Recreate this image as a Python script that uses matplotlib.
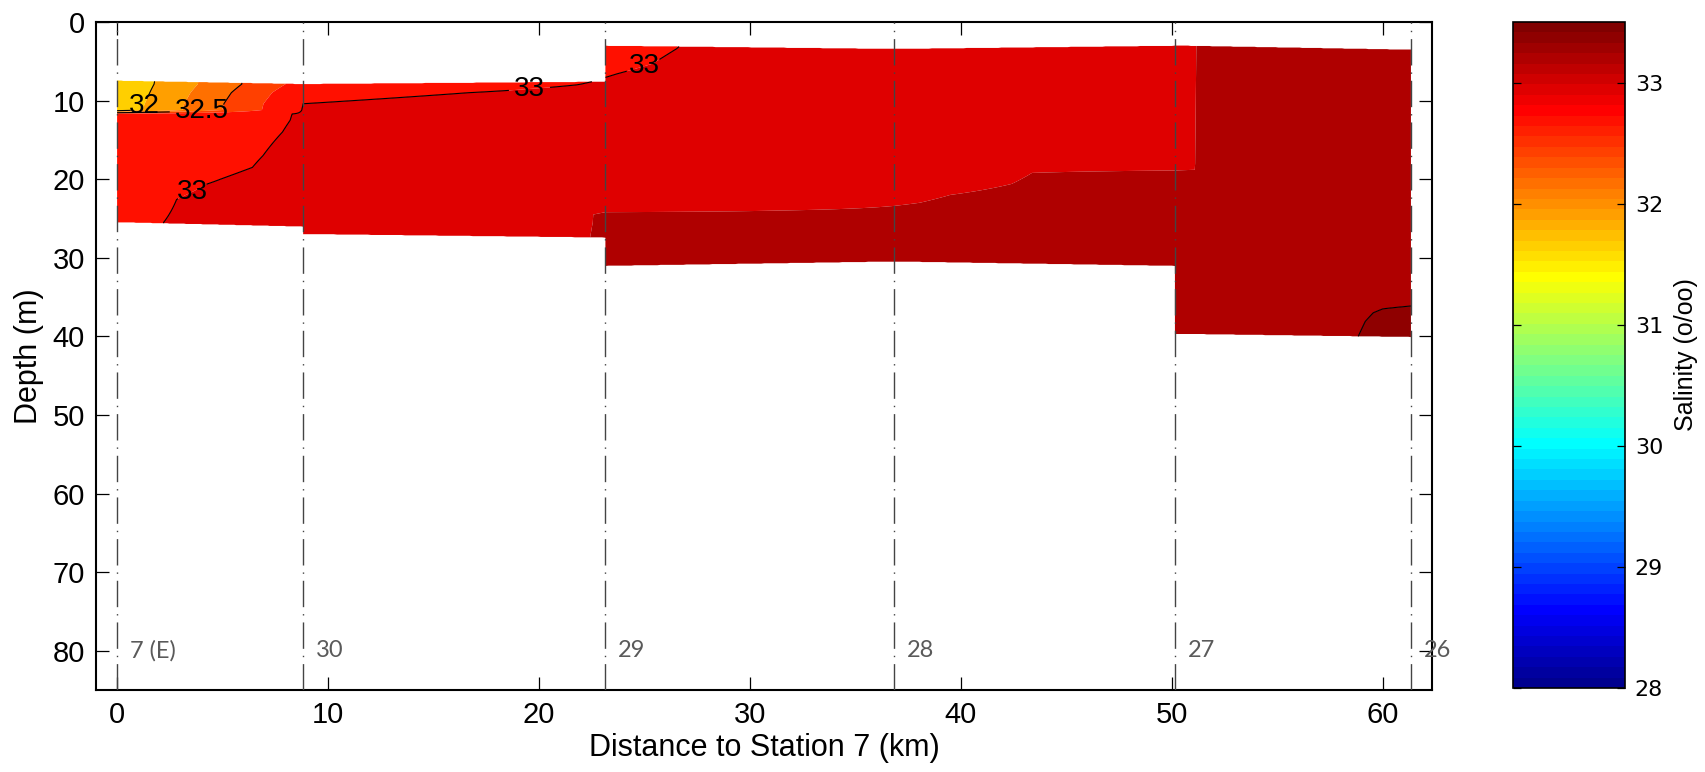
import numpy as np
import matplotlib
matplotlib.use("Agg")
import matplotlib.pyplot as plt
from matplotlib.colors import ListedColormap, Normalize
from matplotlib.cm import ScalarMappable

# ---------------- data ----------------
station_names = ["7 (E)", "30", "29", "28", "27", "26"]
station_km = [0.0, 8.82, 23.15, 36.84, 50.15, 61.34]

# vertical extent of each section between neighbouring stations (m)
seg_top_left = [7.44, 7.87, 3.0, 3.4, 2.97]
seg_top_right = [7.87, 7.57, 3.4, 3.0, 3.5]
seg_bot_left = [25.5, 27.0, 31.05, 30.5, 39.7]
seg_bot_right = [26.05, 27.45, 30.5, 31.05, 40.1]

# salinity profiles at each station (depth m, salinity o/oo)
prof7_depth = [7.0, 9.0, 11.2, 11.7, 18.5, 20.0, 20.6, 22.6, 25.5, 27.0]
prof7_sal = [31.78, 31.80, 31.84, 32.80, 32.80, 32.85, 32.88, 32.93, 32.96, 32.96]
prof30_depth = [7.5, 7.9, 9.0, 10.4, 11.5, 12.5, 14.0, 17.0, 18.5, 20.0, 22.5, 25.5, 28.0]
prof30_sal = [32.85, 32.85, 32.94, 33.0, 33.012, 33.015, 33.025, 33.055, 33.075, 33.12, 33.15, 33.12, 33.12]
prof29_depth = [2.5, 3.0, 5.3, 6.6, 7.5, 8.0, 9.0, 10.4, 12.0, 23.5, 24.2, 24.5, 32.0]
prof29_sal = [32.965, 32.965, 32.978, 32.995, 33.005, 33.015, 33.05, 33.10, 33.12, 33.15, 33.25, 33.255, 33.26]
prof28_depth = [3.0, 3.4, 19.0, 20.6, 22.0, 23.0, 23.4, 24.0, 31.5]
prof28_sal = [33.10, 33.10, 33.20, 33.214, 33.2375, 33.245, 33.25, 33.27, 33.30]
prof27_depth = [2.5, 18.8, 19.2, 40.5]
prof27_sal = [33.235, 33.235, 33.30, 33.30]
prof26_depth = [3.0, 18.0, 36.0, 36.5, 37.0, 38.1, 40.5]
prof26_sal = [33.40, 33.41, 33.49, 33.527, 33.538, 33.548, 33.56]

profiles = [(prof7_depth, prof7_sal), (prof30_depth, prof30_sal),
            (prof29_depth, prof29_sal), (prof28_depth, prof28_sal),
            (prof27_depth, prof27_sal), (prof26_depth, prof26_sal)]

fill_levels = np.arange(28.0, 33.76, 0.25)
line_levels = [32.0, 32.5, 33.0, 33.5]
cbar_ticks = [28, 29, 30, 31, 32, 33]
cmin, cmax = 28.0, 33.5

# ---------------- colormap (MATLAB jet, 64) ----------------
def matlab_jet(m=64):
    n = int(np.ceil(m / 4))
    u = np.concatenate([np.arange(1, n + 1) / n, np.ones(n - 1), np.arange(n, 0, -1) / n])
    g = int(np.ceil(n / 2)) - (1 if m % 4 == 1 else 0) + np.arange(1, len(u) + 1)
    r = g + n
    b = g - n
    J = np.zeros((m, 3))
    J[r[r <= m] - 1, 0] = u[: np.sum(r <= m)]
    J[g[g <= m] - 1, 1] = u[: np.sum(g <= m)]
    J[b[b >= 1] - 1, 2] = u[len(u) - np.sum(b >= 1):]
    return J

jet64 = ListedColormap(matlab_jet(64))
band_idx = np.clip(np.ceil((fill_levels[:-1] - cmin) / (cmax - cmin) * 63).astype(int) - 1, 0, 63)
fill_colors = [jet64(int(i)) for i in band_idx]

# ---------------- grid ----------------
z = np.arange(2.5, 41.0, 0.05)
cols_x, cols_s, cols_m = [], [], []
ncol = 90
for k in range(len(station_km) - 1):
    xa, xb = station_km[k], station_km[k + 1]
    t = np.linspace(0, 1, ncol)
    xs = xa + (xb - xa) * t
    if k > 0:
        xs[0] += 1e-3
    sa = np.interp(z, *profiles[k])
    sb = np.interp(z, *profiles[k + 1])
    top = seg_top_left[k] + (seg_top_right[k] - seg_top_left[k]) * t
    bot = seg_bot_left[k] + (seg_bot_right[k] - seg_bot_left[k]) * t
    for j in range(ncol):
        cols_x.append(np.full_like(z, xs[j]))
        cols_s.append(sa * (1 - t[j]) + sb * t[j])
        cols_m.append((z < top[j] - 1e-9) | (z > bot[j] + 1e-9))
X = np.array(cols_x).T
Z = np.tile(z[:, None], (1, X.shape[1]))
S = np.ma.array(np.array(cols_s).T, mask=np.array(cols_m).T)

# ---------------- figure ----------------
plt.rcParams["font.family"] = ["Liberation Sans", "DejaVu Sans"]

fig = plt.figure(figsize=(17.05, 7.72), dpi=100)
ax = fig.add_axes([0.0563, 0.1062, 0.7836, 0.8653])
cax = fig.add_axes([0.8874, 0.1088, 0.0657, 0.8627])

ax.contourf(X, Z, S, levels=fill_levels, colors=fill_colors, antialiased=True)
cs = ax.contour(X, Z, S, levels=line_levels, colors="k", linewidths=0.8)
ax.clabel(cs, levels=[32.0, 32.5, 33.0], inline=True, inline_spacing=6,
          fontsize=20, fmt={32.0: "32", 32.5: "32.5", 33.0: "33"},
          manual=[(0.9, 10.6), (4.0, 11.2), (3.5, 21.5), (19.6, 8.9), (24.7, 5.0)])
for t in cs.labelTexts:
    t.set_rotation(0)

for xs, name in zip(station_km, station_names):
    ax.axvline(xs, color="#444444", lw=1.0, dashes=(19, 5, 1, 5), zorder=3)
    ax.text(xs + 0.6, 80, name, va="center", ha="left", color="#5a5a5a",
            fontsize=17, family=["Lato", "DejaVu Sans"])

ax.set_xlim(-1, 62.34)
ax.set_ylim(85, 0)
ax.set_xticks(np.arange(0, 61, 10))
ax.set_yticks(np.arange(0, 81, 10))
ax.tick_params(direction="in", length=9.5, width=0.9, top=True, right=True,
               labelsize=21, pad=8)
for sp in ax.spines.values():
    sp.set_linewidth(1.5)
ax.set_xlabel("Distance to Station 7 (km)", fontsize=22, labelpad=3)
ax.set_ylabel("Depth (m)", fontsize=22, labelpad=6)

sm = ScalarMappable(norm=Normalize(cmin, cmax), cmap=jet64)
cb = fig.colorbar(sm, cax=cax, ticks=cbar_ticks)
cb.outline.set_linewidth(1.2)
cax.tick_params(direction="in", length=6, width=0.9, left=True, right=True,
                labelsize=16, pad=7)
for lab in cax.get_yticklabels():
    lab.set_family("DejaVu Sans")
cb.set_label("Salinity (o/oo)", fontsize=18, labelpad=8)

fig.savefig("out.png", dpi=100)
